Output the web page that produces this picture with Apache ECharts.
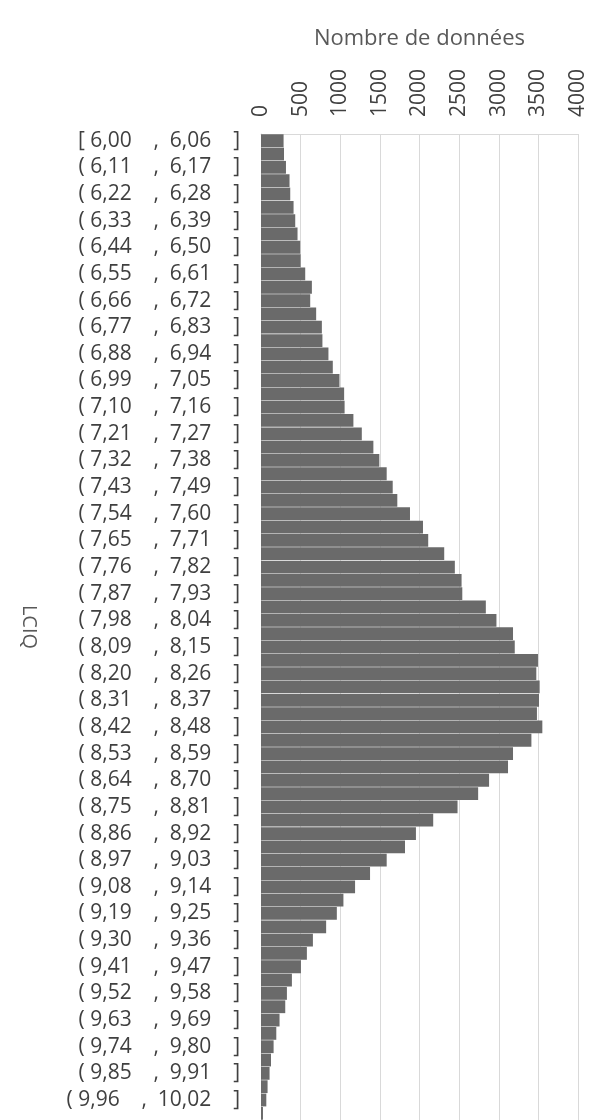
<!DOCTYPE html>
<html>
<head>
<meta charset="utf-8">
<script src="https://cdn.jsdelivr.net/npm/echarts@6/dist/echarts.min.js"></script>
<style>
  html, body { margin: 0; background: #fff; }
  #chart { width: 615px; height: 1120px; }
</style>
</head>
<body>
<div id="chart"></div>
<script>
// bornes des classes (LCIQ)
const binLow = ["6,00", "6,06", "6,11", "6,17", "6,22", "6,28", "6,33", "6,39", "6,44", "6,50",
  "6,55", "6,61", "6,66", "6,72", "6,77", "6,83", "6,88", "6,94", "6,99", "7,05",
  "7,10", "7,16", "7,21", "7,27", "7,32", "7,38", "7,43", "7,49", "7,54", "7,60",
  "7,65", "7,71", "7,76", "7,82", "7,87", "7,93", "7,98", "8,04", "8,09", "8,15",
  "8,20", "8,26", "8,31", "8,37", "8,42", "8,48", "8,53", "8,59", "8,64", "8,70",
  "8,75", "8,81", "8,86", "8,92", "8,97", "9,03", "9,08", "9,14", "9,19", "9,25",
  "9,30", "9,36", "9,41", "9,47", "9,52", "9,58", "9,63", "9,69", "9,74", "9,80",
  "9,85", "9,91", "9,96", "10,02"];
const binHigh = ["6,06", "6,11", "6,17", "6,22", "6,28", "6,33", "6,39", "6,44", "6,50", "6,55",
  "6,61", "6,66", "6,72", "6,77", "6,83", "6,88", "6,94", "6,99", "7,05", "7,10",
  "7,16", "7,21", "7,27", "7,32", "7,38", "7,43", "7,49", "7,54", "7,60", "7,65",
  "7,71", "7,76", "7,82", "7,87", "7,93", "7,98", "8,04", "8,09", "8,15", "8,20",
  "8,26", "8,31", "8,37", "8,42", "8,48", "8,53", "8,59", "8,64", "8,70", "8,75",
  "8,81", "8,86", "8,92", "8,97", "9,03", "9,08", "9,14", "9,19", "9,25", "9,30",
  "9,36", "9,41", "9,47", "9,52", "9,58", "9,63", "9,69", "9,74", "9,80", "9,85",
  "9,91", "9,96", "10,02", "10,07"];

// nombre de données par classe
const counts = [285, 290, 315, 360, 369, 411, 432, 461, 495, 500,
  558, 642, 621, 696, 768, 775, 851, 906, 990, 1049,
  1055, 1166, 1272, 1418, 1493, 1586, 1662, 1720, 1880, 2044,
  2110, 2312, 2446, 2531, 2540, 2837, 2971, 3180, 3202, 3495,
  3474, 3516, 3508, 3482, 3550, 3412, 3180, 3117, 2878, 2740,
  2480, 2173, 1955, 1817, 1586, 1376, 1187, 1040, 957, 822,
  655, 579, 504, 390, 327, 306, 234, 193, 159, 126,
  108, 83, 67, 25];

const categories = binLow.map((lo, i) =>
  (i === 0 ? "[" : "(") + " " + lo + "    ,  " + binHigh[i] + "    ]"
);

const FONT = "Open Sans";
const chart = echarts.init(document.getElementById("chart"));

chart.setOption({
  backgroundColor: "#fff",
  animation: false,
  grid: { left: 261, right: 37, top: 134, height: 986.7, containLabel: false },
  xAxis: {
    type: "value",
    position: "top",
    min: 0,
    max: 4000,
    interval: 500,
    name: "Nombre de données",
    nameLocation: "middle",
    nameGap: 84,
    nameTextStyle: { color: "#595959", fontSize: 22, fontFamily: FONT },
    axisLine: { show: true, lineStyle: { color: "#d9d9d9", width: 1 } },
    axisTick: { show: false },
    axisLabel: {
      rotate: -90,
      margin: 17,
      color: "#404040",
      fontSize: 21,
      fontFamily: FONT,
      formatter: (v) => String(v),
    },
    splitLine: { show: true, lineStyle: { color: "#d9d9d9", width: 1 } },
  },
  yAxis: {
    type: "category",
    inverse: true,
    data: categories,
    name: "LCIQ",
    nameLocation: "middle",
    nameRotate: -90,
    nameGap: 222,
    nameTextStyle: { color: "#595959", fontSize: 20, fontFamily: FONT },
    axisLine: { show: true, lineStyle: { color: "#d9d9d9", width: 1 } },
    axisTick: { show: false },
    axisLabel: {
      interval: 1,
      margin: 21,
      color: "#404040",
      fontSize: 21,
      fontFamily: FONT,
    },
  },
  series: [
    {
      type: "bar",
      data: counts,
      barCategoryGap: "4%",
      itemStyle: { color: "#6a6a6a" },
    },
  ],
});
</script>
</body>
</html>
